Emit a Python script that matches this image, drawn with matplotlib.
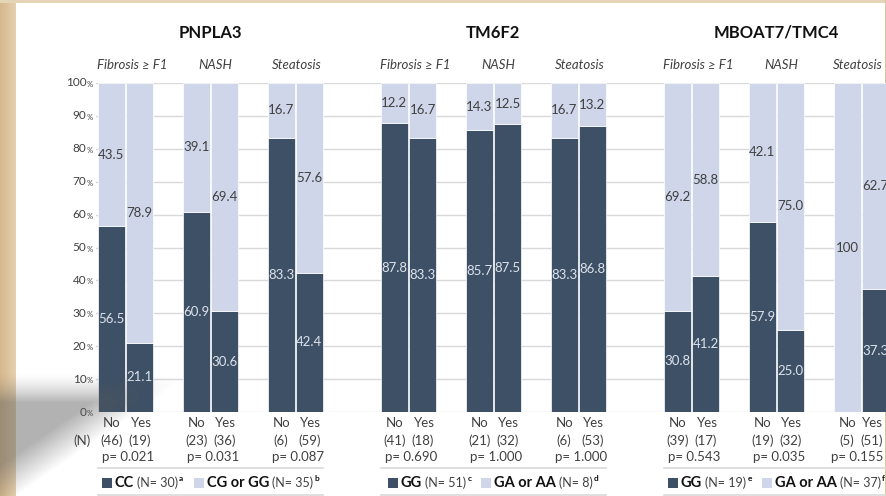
"""Genotype distribution by histology outcome for three NAFLD risk variants.

Stacked 100% bars: for each trait (fibrosis, NASH, steatosis) and each answer
(No / Yes) the share of patients carrying the reference vs. the risk genotype.
"""

import numpy as np
import matplotlib

matplotlib.use("Agg")
import matplotlib.pyplot as plt
from matplotlib import transforms
from matplotlib.patches import Rectangle

OUT = "out.png"
W, H = 887, 496

GENES = ["PNPLA3", "TM6F2", "MBOAT7/TMC4"]
TRAITS = ["Fibrosis ≥ F1", "NASH", "Steatosis"]
ANSWERS = ["No", "Yes"]

# percentages, ordered Fibrosis No/Yes, NASH No/Yes, Steatosis No/Yes
PNPLA3_REF = [56.5, 21.1, 60.9, 30.6, 83.3, 42.4]
PNPLA3_ALT = [43.5, 78.9, 39.1, 69.4, 16.7, 57.6]
TM6F2_REF = [87.8, 83.3, 85.7, 87.5, 83.3, 86.8]
TM6F2_ALT = [12.2, 16.7, 14.3, 12.5, 16.7, 13.2]
MBOAT7_REF = [30.8, 41.2, 57.9, 25.0, 0.0, 37.3]
MBOAT7_ALT = [69.2, 58.8, 42.1, 75.0, 100.0, 62.7]

# patients per bar, same order
PNPLA3_N = [46, 19, 23, 36, 6, 59]
TM6F2_N = [41, 18, 21, 32, 6, 53]
MBOAT7_N = [39, 17, 19, 32, 5, 51]

# p-value per trait
PNPLA3_P = ["0.021", "0.031", "0.087"]
TM6F2_P = ["0.690", "1.000", "1.000"]
MBOAT7_P = ["0.543", "0.035", "0.155"]

# legend entries: (genotype, N, footnote)
PNPLA3_GT = [("CC", 30, "a"), ("CG or GG", 35, "b")]
TM6F2_GT = [("GG", 51, "c"), ("GA or AA", 8, "d")]
MBOAT7_GT = [("GG", 19, "e"), ("GA or AA", 37, "f")]

REF = [PNPLA3_REF, TM6F2_REF, MBOAT7_REF]
ALT = [PNPLA3_ALT, TM6F2_ALT, MBOAT7_ALT]
NS = [PNPLA3_N, TM6F2_N, MBOAT7_N]
PS = [PNPLA3_P, TM6F2_P, MBOAT7_P]
GTS = [PNPLA3_GT, TM6F2_GT, MBOAT7_GT]

DARK = "#3d5066"
LIGHT = "#cfd6ea"
TXT = "#404040"
GRID = "#d9d9d9"
PITCH = 28.3  # px per bar slot
PANEL_RIGHT = 883  # px, where the white panel ends

# horizontal nudge of the trait headers, in slots
TRAIT_SHIFT = [0.23, 0.18, 0.05]

plt.rcParams["font.family"] = ["Lato", "DejaVu Sans"]


def fig_xy(px, py):
    return px / W, 1 - py / H


def slot(g, t, a):
    # one bar slot per answer, a blank slot between traits, two between genes
    return g * 10 + t * 3 + a


def main():
    fig = plt.figure(figsize=(W / 100, H / 100), dpi=100)
    fig.patch.set_facecolor("white")

    # slide frame: beige border around a white panel
    bg = np.ones((H, W, 3))
    outer = np.array([214, 184, 142]) / 255
    inner = np.array([228, 208, 174]) / 255
    for x in range(16):
        bg[:, x] = outer + (inner - outer) * x / 15
    bg[:3, :] = np.array([230, 212, 182]) / 255
    bg[:, 885:] = np.array([220, 196, 158]) / 255
    bax = fig.add_axes([0, 0, 1, 1], zorder=-10)
    bax.imshow(bg, aspect="auto", extent=(0, W, H, 0))
    bax.axis("off")

    # bar axes: 0% at y=412 px, 100% at y=83 px
    x0, x1 = -0.55, 27.5
    left_px = 111.3 + x0 * PITCH
    right_px = 111.3 + x1 * PITCH
    ax = fig.add_axes(
        [left_px / W, (H - 412) / H, (right_px - left_px) / W, 329 / H]
    )
    ax.set_facecolor("none")
    ax.set_xlim(x0, x1)
    ax.set_ylim(0, 100)
    ax.set_yticks(range(0, 101, 10))
    ax.set_xticks([])
    ax.tick_params(left=False, labelleft=False)
    ax.yaxis.grid(True, color=GRID, lw=1.0)
    ax.set_axisbelow(True)
    for s in ax.spines.values():
        s.set_visible(False)

    for g in range(3):
        xs = [slot(g, i // 2, i % 2) for i in range(6)]
        ax.bar(xs, REF[g], width=0.96, color=DARK, edgecolor="white", lw=0.5)
        ax.bar(xs, ALT[g], bottom=REF[g], width=0.96, color=LIGHT,
               edgecolor="white", lw=0.5)
        for x, r, a in zip(xs, REF[g], ALT[g]):
            if r > 0:
                ax.text(x, r / 2, f"{r:.1f}", ha="center", va="center",
                        fontsize=9.5, color="#dde2ec")
            if a > 0:
                lab = f"{a:.1f}" if a < 100 else f"{a:.0f}"
                ax.text(x, r + a / 2, lab, ha="center", va="center",
                        fontsize=9.5, color=TXT)

    # y tick labels with a small percent sign
    for v in range(0, 101, 10):
        py = 412 - v * 3.29
        fig.text(*fig_xy(86.5, py), str(v), ha="right", va="center",
                 fontsize=8.5, color=TXT)
        fig.text(*fig_xy(87, py + 1.5), "%", ha="left", va="center",
                 fontsize=5.5, color=TXT)

    bt = transforms.blended_transform_factory(ax.transData, fig.transFigure)
    fig.text(*fig_xy(82, 441), "(N)", ha="center", va="center",
             fontsize=9.5, color=TXT)

    edge_texts = []  # labels that must stay inside the white panel
    for g, gene in enumerate(GENES):
        gc = slot(g, 1, 0.5)
        ax.text(gc, 1 - 33 / H, gene, transform=bt, ha="center", va="center",
                fontsize=12, fontweight="bold", color="#111111")
        for t, trait in enumerate(TRAITS):
            pc = slot(g, t, 0.5)
            edge_texts.append(
                ax.text(pc + TRAIT_SHIFT[t], 1 - 65 / H, trait, transform=bt,
                        ha="center", va="center", fontsize=9.5,
                        style="italic", color=TXT))
            for a, ans in enumerate(ANSWERS):
                x = slot(g, t, a)
                edge_texts.append(
                    ax.text(x + 0.05 * a, 1 - 423 / H, ans, transform=bt,
                            ha="center", va="center", fontsize=9.5, color=TXT))
                edge_texts.append(
                    ax.text(x, 1 - 441 / H, f"({NS[g][2 * t + a]})",
                            transform=bt, ha="center", va="center",
                            fontsize=9.5, color=TXT))
            edge_texts.append(
                ax.text(pc + 0.1, 1 - 457 / H, f"p= {PS[g][t]}", transform=bt,
                        ha="center", va="center", fontsize=9.5, color=TXT))

        # rules above and below the legend row
        lo, hi = slot(g, 0, 0) - 0.48, slot(g, 2, 1) + 0.48
        for py in (468, 495):
            ax.plot([lo, hi], [1 - py / H] * 2, transform=bt, color=GRID,
                    lw=1.2, clip_on=False)

    fig.canvas.draw()
    renderer = fig.canvas.get_renderer()

    # pull back any label that would run past the panel edge
    for txt in edge_texts:
        over = txt.get_window_extent(renderer).x1 - PANEL_RIGHT
        if over > 0:
            x, y = txt.get_position()
            txt.set_position((x - over / PITCH, y))

    # per-gene legends, built piece by piece and centred under each group
    ly = 483
    for g in range(3):
        items = []
        total = 0
        for k, (gt, n, note) in enumerate(GTS[g]):
            runs = []
            for s, size, weight, dy, gap in (
                (gt, 10.5, "bold", 0, 3),
                (f"(N= {n})", 9, "normal", 0, 1),
                (note, 6, "bold", -4.5, 0),
            ):
                txt = fig.text(0, 0, s, fontsize=size, fontweight=weight,
                               color="#111111" if weight == "bold" else TXT,
                               ha="left", va="center")
                w = txt.get_window_extent(renderer).width
                runs.append((txt, w, dy, gap))
                total += w + gap
            items.append((DARK if k == 0 else LIGHT, runs))
            total += 13
        total += 10  # space between the two entries
        cx = ax.transData.transform((slot(g, 1, 0.5), 0))[0] - total / 2
        for k, (col, runs) in enumerate(items):
            if k > 0:
                cx += 10
            fig.add_artist(Rectangle(fig_xy(cx, ly + 5), 10 / W, 10 / H,
                                     transform=fig.transFigure,
                                     color=col, lw=0))
            cx += 13
            for txt, w, dy, gap in runs:
                txt.set_position(fig_xy(cx, ly + dy))
                cx += w + gap

    # soft shadow falling over the lower-left corner of the slide
    yy, xx = np.mgrid[0:H, 0:W].astype(float)
    top = np.clip((yy - 372) / 30, 0, 1) ** 1.5
    xline = 175 - (yy - 385) * 160 / 111
    side = np.clip((xline - xx) / 60, 0, 1)
    shade = np.zeros((H, W, 4))
    shade[..., :3] = 0.35
    shade[..., 3] = 0.46 * top * side
    sax = fig.add_axes([0, 0, 1, 1], zorder=10)
    sax.imshow(shade, aspect="auto", extent=(0, W, H, 0))
    sax.axis("off")

    fig.savefig(OUT, dpi=100)


if __name__ == "__main__":
    main()
